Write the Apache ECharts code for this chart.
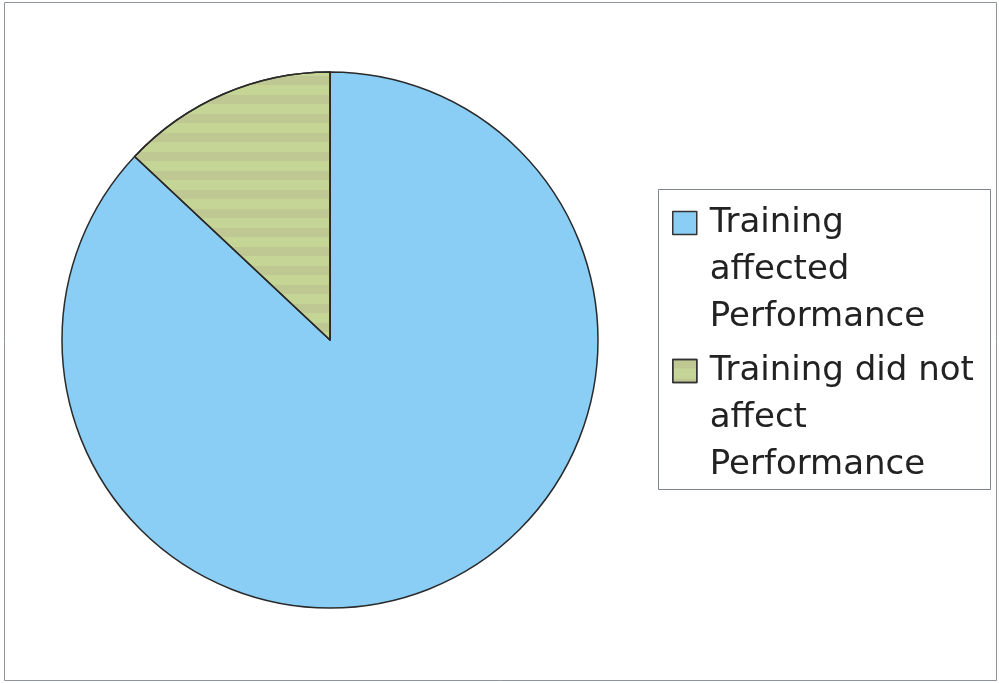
<!DOCTYPE html>
<html>
<head>
<meta charset="utf-8">
<script src="https://cdn.jsdelivr.net/npm/echarts@6/dist/echarts.min.js"></script>
<style>
html,body{margin:0;padding:0;background:#fff;}
#chart{width:999px;height:683px;}
</style>
</head>
<body>
<div id="chart"></div>
<script>
var categories = ['Training affected Performance', 'Training did not affect Performance'];
var legendLines = [['Training', 'affected', 'Performance'], ['Training did not', 'affect', 'Performance']];
var values = [87, 13];
var colors = ['#8acef5', '#c5d596'];

var LH = 47;
var chart = echarts.init(document.getElementById('chart'), null, {renderer: 'canvas'});
var data = categories.map(function (c, i) {
  var item = {name: c, value: values[i], itemStyle: {color: colors[i]}};
  if (i === 1) {
    item.itemStyle.decal = {
      symbol: 'rect',
      dashArrayX: [1, 0],
      dashArrayY: [9, 10],
      rotation: 0,
      color: 'rgba(165,140,125,0.18)'
    };
  }
  return item;
});
chart.setOption({
  backgroundColor: '#ffffff',
  animation: false,
  graphic: [
    {type: 'rect', shape: {x: 4.5, y: 2.5, width: 992, height: 678}, style: {fill: 'none', stroke: '#8d949c', lineWidth: 1}},
    {type: 'rect', shape: {x: 658.5, y: 189.5, width: 332, height: 300}, style: {fill: 'none', stroke: '#7d848c', lineWidth: 1}}
  ],
  legend: {
    orient: 'vertical',
    left: 672,
    top: 223 - 5 * LH / 2,
    padding: 0,
    itemWidth: 24,
    itemHeight: 23,
    itemGap: 148 - 5 * LH,
    icon: 'rect',
    itemStyle: {borderColor: '#333', borderWidth: 1.5},
    formatter: function (name) {
      // two empty lines first so the first text line sits level with the icon
      return '\n\n' + legendLines[categories.indexOf(name)].join('\n');
    },
    textStyle: {
      fontFamily: 'DejaVu Sans, sans-serif',
      fontSize: 34,
      lineHeight: LH,
      color: '#222',
      padding: [0, 0, 0, 8]
    },
    selectedMode: false,
    data: categories
  },
  series: [{
    type: 'pie',
    center: [330, 340],
    radius: 268,
    startAngle: 90,
    clockwise: true,
    label: {show: false},
    labelLine: {show: false},
    emphasis: {disabled: true},
    itemStyle: {borderColor: '#2a2a2a', borderWidth: 1.5},
    data: data
  }]
});
</script>
</body>
</html>
